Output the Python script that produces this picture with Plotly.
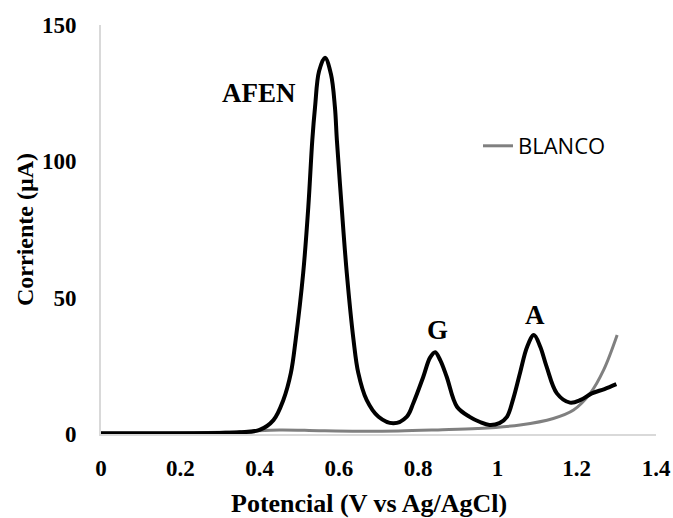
import plotly.graph_objects as go

# Sample (black) voltammogram
sample_x = [0.00, 0.10, 0.20, 0.30, 0.35, 0.40, 0.435, 0.460, 0.479, 0.491, 0.510, 0.523, 0.533,
            0.540, 0.550, 0.565, 0.580, 0.590, 0.595, 0.607, 0.620, 0.637, 0.649, 0.670, 0.700,
            0.738, 0.771, 0.788, 0.813, 0.830, 0.843, 0.856, 0.872, 0.898, 0.930, 0.956, 0.980,
            1.005, 1.024, 1.040, 1.057, 1.075, 1.092, 1.108, 1.124, 1.150, 1.183, 1.210, 1.238,
            1.270, 1.300]
sample_y = [0.3, 0.3, 0.3, 0.4, 0.6, 1.5, 5.1, 12.5, 22.4, 34.5, 59, 83.4, 107.8,
            120, 133, 138, 132, 120, 107.8, 83.4, 59, 34.5, 22.4, 12.5, 6.3,
            3.9, 6.3, 11.4, 21, 28, 30, 27, 21, 10, 6.3, 4.4, 3.3,
            4.0, 6.3, 13, 22.4, 32, 36.3, 32, 24.7, 14.9, 11.5, 12.5, 14.9,
            16.5, 18.3]

# Blank (grey) voltammogram
blank_x = [0.00, 0.20, 0.35, 0.45, 0.55, 0.65, 0.75, 0.85, 0.95, 1.057, 1.141, 1.192, 1.234, 1.268, 1.302]
blank_y = [0.3, 0.4, 0.8, 1.5, 1.2, 1.0, 1.1, 1.5, 2.0, 3.3, 5.7, 8.8, 14.9, 23.5, 36.3]

peak_labels = ["AFEN", "G", "A"]
peak_label_x = [0.399, 0.848, 1.095]
peak_label_y = [125, 38, 43.6]

x_ticks = [0, 0.2, 0.4, 0.6, 0.8, 1, 1.2, 1.4]
y_ticks = [0, 50, 100, 150]

serif = "Times New Roman, Liberation Serif, serif"

fig = go.Figure()
fig.add_trace(go.Scatter(x=blank_x, y=blank_y, mode="lines", name="BLANCO",
                         line=dict(color="#808080", width=3, shape="spline", smoothing=1.0)))
fig.add_trace(go.Scatter(x=sample_x, y=sample_y, mode="lines", name="Muestra", showlegend=False,
                         line=dict(color="#000000", width=4, shape="spline", smoothing=1.0)))

for t, px, py in zip(peak_labels, peak_label_x, peak_label_y):
    fig.add_annotation(x=px, y=py, text=f"<b>{t}</b>", showarrow=False,
                       font=dict(family=serif, size=27, color="#000"))

fig.add_annotation(xref="paper", yref="paper", x=(369 - 101) / 555, y=-(503 - 434) / 409,
                   text="<b>Potencial (V vs Ag/AgCl)</b>", showarrow=False,
                   font=dict(family=serif, size=26, color="#000"), yanchor="middle", xanchor="center")
fig.add_annotation(xref="paper", yref="paper", x=-(101 - 25) / 555, y=(434 - 230) / 409,
                   text="<b>Corriente (µA)</b>", showarrow=False, textangle=-90,
                   font=dict(family=serif, size=24, color="#000"), yanchor="middle", xanchor="center")

fig.update_layout(
    width=673, height=518,
    margin=dict(l=101, r=17, t=25, b=84),
    paper_bgcolor="white", plot_bgcolor="white",
    showlegend=True,
    legend=dict(x=(478 - 101) / 555, y=(434 - 146) / 409, xanchor="left", yanchor="middle",
                font=dict(family="Open Sans, sans-serif", size=22, color="#000"),
                bgcolor="rgba(0,0,0,0)"),
    xaxis=dict(range=[0, 1.4], tickvals=x_ticks, ticktext=[f"<b>{v:g}</b>" for v in x_ticks],
               showgrid=False, zeroline=False, showline=True, linecolor="#d9d9d9", linewidth=2,
               ticks="", tickfont=dict(family=serif, size=23, color="#000"),
               ticklabelstandoff=12, automargin=False),
    yaxis=dict(range=[0, 150], tickvals=y_ticks, ticktext=[f"<b>{v}</b>" for v in y_ticks],
               showgrid=False, zeroline=False, showline=True, linecolor="#d9d9d9", linewidth=2,
               ticks="", tickfont=dict(family=serif, size=23, color="#000"),
               ticklabelstandoff=18, automargin=False),
)

fig.write_html("out.html")
